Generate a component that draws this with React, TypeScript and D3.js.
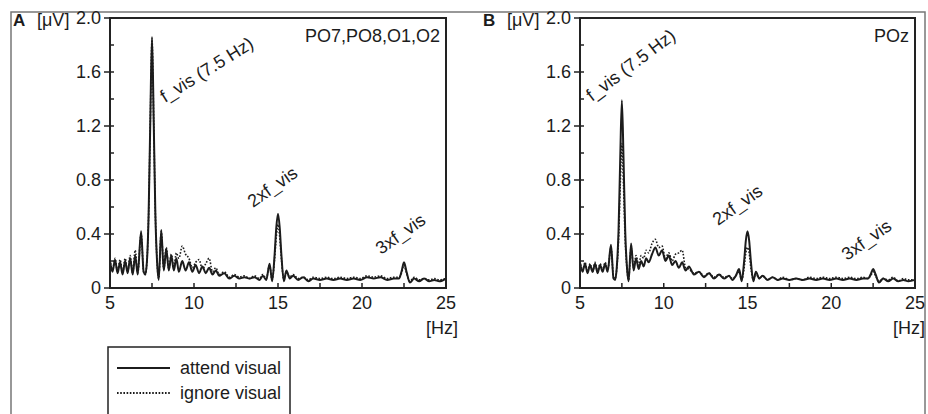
import React from "react";
import * as d3 from "d3";

// ---- data ----
const freqA = [
  5.0, 5.15, 5.3, 5.45, 5.6, 5.75, 5.9, 6.05, 6.2, 6.35,
  6.5, 6.65, 6.85, 7.0, 7.1, 7.2, 7.3, 7.4, 7.5, 7.6,
  7.7, 7.8, 7.9, 8.05, 8.2, 8.35, 8.5, 8.65, 8.8, 8.95,
  9.1, 9.3, 9.5, 9.7, 9.9, 10.1, 10.3, 10.5, 10.7, 10.9,
  11.1, 11.3, 11.5, 11.8, 12.1, 12.4, 12.7, 13.0, 13.3, 13.6,
  13.9, 14.1, 14.3, 14.5, 14.65, 14.8, 14.9, 15.0, 15.1, 15.2,
  15.35, 15.5, 15.7, 15.9, 16.2, 16.5, 16.8, 17.1, 17.5, 17.9,
  18.3, 18.7, 19.1, 19.5, 19.9, 20.3, 20.7, 21.1, 21.5, 21.9,
  22.2, 22.35, 22.5, 22.65, 22.85, 23.1, 23.4, 23.7, 24.0, 24.3,
  24.6, 25.0,
];
const attendA = [
  0.20, 0.12, 0.21, 0.11, 0.19, 0.10, 0.20, 0.11, 0.22, 0.10,
  0.24, 0.10, 0.42, 0.12, 0.10, 0.20, 0.55, 1.25, 1.86, 1.25,
  0.55, 0.20, 0.06, 0.43, 0.13, 0.29, 0.13, 0.24, 0.13, 0.22,
  0.12, 0.20, 0.13, 0.19, 0.12, 0.17, 0.11, 0.16, 0.11, 0.15,
  0.10, 0.13, 0.09, 0.11, 0.07, 0.09, 0.07, 0.08, 0.07, 0.08,
  0.06, 0.09, 0.06, 0.18, 0.05, 0.25, 0.45, 0.55, 0.45, 0.25,
  0.05, 0.13, 0.07, 0.09, 0.06, 0.08, 0.05, 0.07, 0.06, 0.07,
  0.06, 0.07, 0.06, 0.07, 0.06, 0.08, 0.07, 0.08, 0.06, 0.07,
  0.07, 0.12, 0.19, 0.12, 0.04, 0.07, 0.05, 0.07, 0.05, 0.06,
  0.05, 0.07,
];
const ignoreA = [
  0.21, 0.13, 0.22, 0.12, 0.21, 0.11, 0.22, 0.12, 0.24, 0.11,
  0.28, 0.11, 0.40, 0.12, 0.10, 0.20, 0.55, 1.24, 1.84, 1.24,
  0.55, 0.20, 0.07, 0.42, 0.14, 0.30, 0.14, 0.25, 0.15, 0.26,
  0.22, 0.31, 0.25, 0.22, 0.15, 0.19, 0.21, 0.14, 0.18, 0.22,
  0.12, 0.15, 0.10, 0.12, 0.08, 0.10, 0.08, 0.09, 0.07, 0.09,
  0.07, 0.10, 0.07, 0.17, 0.06, 0.22, 0.38, 0.47, 0.38, 0.22,
  0.06, 0.12, 0.08, 0.10, 0.07, 0.08, 0.06, 0.08, 0.07, 0.08,
  0.07, 0.08, 0.07, 0.08, 0.07, 0.09, 0.08, 0.09, 0.07, 0.08,
  0.08, 0.11, 0.17, 0.11, 0.05, 0.08, 0.06, 0.07, 0.06, 0.07,
  0.06, 0.07,
];
const freqB = freqA.slice();
const attendB = [
  0.19, 0.12, 0.18, 0.11, 0.17, 0.12, 0.18, 0.11, 0.17, 0.12,
  0.18, 0.12, 0.32, 0.07, 0.06, 0.16, 0.42, 0.95, 1.39, 0.95,
  0.42, 0.16, 0.05, 0.33, 0.13, 0.22, 0.14, 0.20, 0.16, 0.22,
  0.19, 0.25, 0.30, 0.24, 0.28, 0.20, 0.24, 0.17, 0.20, 0.15,
  0.19, 0.13, 0.16, 0.10, 0.12, 0.08, 0.11, 0.07, 0.10, 0.07,
  0.09, 0.06, 0.09, 0.14, 0.05, 0.20, 0.35, 0.42, 0.35, 0.20,
  0.05, 0.12, 0.07, 0.09, 0.06, 0.08, 0.06, 0.07, 0.06, 0.07,
  0.06, 0.07, 0.06, 0.07, 0.06, 0.07, 0.06, 0.07, 0.06, 0.07,
  0.07, 0.10, 0.14, 0.10, 0.04, 0.07, 0.05, 0.07, 0.05, 0.06,
  0.05, 0.06,
];
const ignoreB = [
  0.20, 0.13, 0.19, 0.12, 0.18, 0.12, 0.19, 0.12, 0.18, 0.13,
  0.19, 0.13, 0.30, 0.08, 0.07, 0.15, 0.35, 0.75, 1.07, 0.75,
  0.35, 0.15, 0.06, 0.30, 0.15, 0.24, 0.17, 0.24, 0.22, 0.28,
  0.26, 0.33, 0.36, 0.30, 0.31, 0.22, 0.26, 0.20, 0.25, 0.26,
  0.28, 0.15, 0.14, 0.11, 0.12, 0.09, 0.11, 0.08, 0.10, 0.08,
  0.09, 0.07, 0.09, 0.12, 0.06, 0.15, 0.26, 0.30, 0.26, 0.15,
  0.06, 0.11, 0.07, 0.09, 0.06, 0.08, 0.06, 0.08, 0.06, 0.07,
  0.06, 0.08, 0.07, 0.08, 0.07, 0.08, 0.07, 0.08, 0.07, 0.08,
  0.07, 0.09, 0.12, 0.09, 0.05, 0.07, 0.06, 0.08, 0.05, 0.07,
  0.06, 0.06,
];

const xTickLabels = [5, 10, 15, 20, 25];
const xMinorTicks = [7.5, 10, 12.5, 15, 17.5, 20, 22.5];
const yTickLabels = [0, 0.4, 0.8, 1.2, 1.6, 2.0];
const yMinorTicks = [0.2, 0.6, 1.0, 1.4, 1.8];
const seriesNames = ["attend visual", "ignore visual"];

const FONT = "'Liberation Sans', Arial, Helvetica, sans-serif";
const INK = "#1c1c1c";

type Ann = { text: string; x: number; y: number; angle: number };

function Panel(props: {
  letter: string;
  left: number;
  right: number;
  freq: number[];
  attend: number[];
  ignore: number[];
  channel: string;
  anns: Ann[];
  hzOffset: number;
}) {
  const { letter, left, right, freq, attend, ignore, channel, anns, hzOffset } = props;
  const top = 18;
  const bottom = 288;
  const x = d3.scaleLinear().domain([5, 25]).range([left, right]);
  const y = d3.scaleLinear().domain([0, 2]).range([bottom, top]);
  const line = d3
    .line<number>()
    .x((_, i) => x(freq[i]))
    .y((d) => y(d))
    .curve(d3.curveMonotoneX);
  return (
    <g fontFamily={FONT} fill={INK}>
      <path d={line(ignore) || ""} fill="none" stroke={INK} strokeWidth={1.6} strokeDasharray="1.6,1.6" />
      <path d={line(attend) || ""} fill="none" stroke={INK} strokeWidth={2} />
      <rect x={left} y={top} width={right - left} height={bottom - top} fill="none" stroke="#222" strokeWidth={2} />
      {xMinorTicks.map((t) => (
        <line key={"xm" + t} x1={x(t)} x2={x(t)} y1={bottom} y2={bottom - 5} stroke="#222" strokeWidth={1.5} />
      ))}
      {yMinorTicks.map((t) => (
        <line key={"ym" + t} x1={left} x2={left + 4} y1={y(t)} y2={y(t)} stroke="#222" strokeWidth={1.5} />
      ))}
      {yTickLabels.map((t) => (
        <g key={"y" + t}>
          <line x1={left - 6} x2={left + 4} y1={y(t)} y2={y(t)} stroke="#222" strokeWidth={1.5} />
          <text x={left - 9} y={y(t) + 6} fontSize={18} textAnchor="end">
            {t === 0 ? "0" : t.toFixed(1)}
          </text>
        </g>
      ))}
      {xTickLabels.map((t) => (
        <text key={"x" + t} x={x(t)} y={bottom + 21} fontSize={18} textAnchor="middle">
          {t}
        </text>
      ))}
      <text x={right + hzOffset} y={bottom + 46} fontSize={18} textAnchor="end">[Hz]</text>
      <text x={left - 97} y={26} fontSize={17} fontWeight="bold">{letter}</text>
      <text x={left - 73} y={26} fontSize={18}>[μV]</text>
      <text x={right - 6} y={42} fontSize={18} textAnchor="end">{channel}</text>
      {anns.map((a) => (
        <text key={a.text} x={a.x} y={a.y} fontSize={18} transform={`rotate(${a.angle},${a.x},${a.y})`}>
          {a.text}
        </text>
      ))}
    </g>
  );
}

export default function App() {
  return (
    <svg
      width={928}
      height={414}
      style={{ position: "absolute", left: 0, top: 0, background: "#fff" }}
    >
      <rect x={0} y={0} width={928} height={414} fill="#fff" />
      <rect x={11} y={12} width={914} height={420} fill="none" stroke="#777" strokeWidth={1.5} />
      <Panel
        letter="A"
        left={110}
        right={446}
        freq={freqA}
        attend={attendA}
        ignore={ignoreA}
        channel="PO7,PO8,O1,O2"
        hzOffset={12}
        anns={[
          { text: "f_vis (7.5 Hz)", x: 165, y: 103, angle: -32 },
          { text: "2xf_vis", x: 253, y: 208, angle: -35 },
          { text: "3xf_vis", x: 381, y: 255, angle: -35 },
        ]}
      />
      <Panel
        letter="B"
        left={580}
        right={915}
        freq={freqB}
        attend={attendB}
        ignore={ignoreB}
        channel="POz"
        hzOffset={10}
        anns={[
          { text: "f_vis (7.5 Hz)", x: 592, y: 102, angle: -37 },
          { text: "2xf_vis", x: 718, y: 226, angle: -35 },
          { text: "3xf_vis", x: 847, y: 261, angle: -35 },
        ]}
      />
      <g fontFamily={FONT} fill={INK}>
        <rect x={108} y={347} width={182} height={80} fill="none" stroke="#222" strokeWidth={1.5} />
        <line x1={117} x2={170} y1={368} y2={368} stroke={INK} strokeWidth={2.2} />
        <line x1={117} x2={170} y1={393} y2={393} stroke={INK} strokeWidth={2} strokeDasharray="1.6,1.6" />
        <text x={180} y={374} fontSize={18}>{seriesNames[0]}</text>
        <text x={180} y={399} fontSize={18}>{seriesNames[1]}</text>
      </g>
    </svg>
  );
}
